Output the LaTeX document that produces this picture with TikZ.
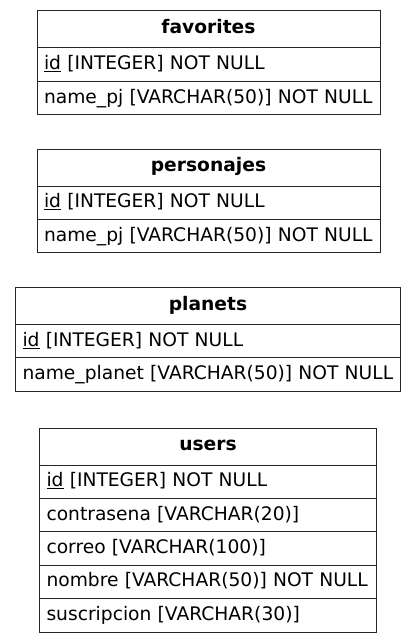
\documentclass[tikz,border=0pt]{standalone}
\usepackage{fontspec}
\setmainfont{DejaVu Sans}
\begin{document}
\begin{tikzpicture}[x=1pt,y=-1pt,
  every node/.style={draw=black!85, line width=1pt, anchor=north west, outer sep=0pt, inner xsep=7pt, inner ysep=0pt, font=\fontsize{18.67}{22}\selectfont},
  hdr/.style={minimum height=37pt, align=center, text height=14pt, text depth=6pt, font=\fontsize{18.67}{22}\selectfont\bfseries},
  row/.style={minimum height=33.4pt, align=left, text height=15pt, text depth=5pt}]
\useasboundingbox (0,0) rectangle (416,642);
% favorites
\node[hdr, text width=329pt] (favh) at (37,11) {favorites};
\node[row, text width=329pt] (fav1) at (favh.south west) {\underline{id} [INTEGER] NOT NULL};
\node[row, text width=329pt] (fav2) at (fav1.south west) {name\_pj [VARCHAR(50)] NOT NULL};
% personajes
\node[hdr, text width=329pt] (perh) at (37,149) {personajes};
\node[row, text width=329pt] (per1) at (perh.south west) {\underline{id} [INTEGER] NOT NULL};
\node[row, text width=329pt] (per2) at (per1.south west) {name\_pj [VARCHAR(50)] NOT NULL};
% planets
\node[hdr, text width=371pt] (plah) at (15.5,287.5) {planets};
\node[row, text width=371pt] (pla1) at (plah.south west) {\underline{id} [INTEGER] NOT NULL};
\node[row, text width=371pt] (pla2) at (pla1.south west) {name\_planet [VARCHAR(50)] NOT NULL};
% users
\node[hdr, text width=323pt] (useh) at (39.5,428) {users};
\node[row, text width=323pt] (use1) at (useh.south west) {\underline{id} [INTEGER] NOT NULL};
\node[row, text width=323pt] (use2) at (use1.south west) {contrasena [VARCHAR(20)]};
\node[row, text width=323pt] (use3) at (use2.south west) {correo [VARCHAR(100)]};
\node[row, text width=323pt] (use4) at (use3.south west) {nombre [VARCHAR(50)] NOT NULL};
\node[row, text width=323pt] (use5) at (use4.south west) {suscripcion [VARCHAR(30)]};
\end{tikzpicture}
\end{document}
